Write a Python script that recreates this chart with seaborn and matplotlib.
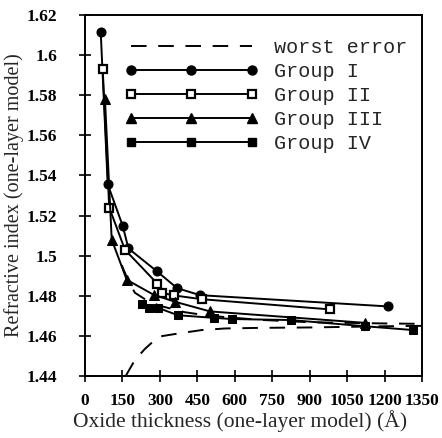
import numpy as np
import pandas as pd
import matplotlib
matplotlib.use("Agg")
import matplotlib.pyplot as plt
from matplotlib.lines import Line2D
import seaborn as sns

# Oxide thickness (Å) and one-layer-model refractive index per sample group
g1_t = [63, 91, 151, 174, 287, 369, 461, 1213]
g1_n = [1.6114, 1.5356, 1.5149, 1.5036, 1.4923, 1.4838, 1.4803, 1.4747]

g2_t = [71, 97, 160, 290, 307, 355, 467, 982]
g2_n = [1.5930, 1.5240, 1.5030, 1.4860, 1.4815, 1.4802, 1.4783, 1.4732]

g3_t = [80, 107, 167, 275, 361, 501, 1122]
g3_n = [1.5780, 1.5080, 1.4880, 1.4805, 1.4770, 1.4722, 1.4665]

g4_t = [230, 258, 292, 372, 515, 590, 825, 1122, 1315]
g4_n = [1.4758, 1.4738, 1.4740, 1.4703, 1.4690, 1.4684, 1.4679, 1.4648, 1.4629]

# Worst-error envelope (upper and lower branches)
err_up_t = [147, 175, 200, 250, 300, 400, 500, 700, 900, 1200, 1350]
err_up_n = [1.4953, 1.4870, 1.4815, 1.4775, 1.4750, 1.4718, 1.4700, 1.4680, 1.4668, 1.4662, 1.4660]
err_lo_t = [163, 200, 240, 294, 374, 467, 561, 700, 900, 1200, 1350]
err_lo_n = [1.4400, 1.4480, 1.4535, 1.4596, 1.4612, 1.4629, 1.4637, 1.4640, 1.4642, 1.4648, 1.4650]

x_ticks = list(range(0, 1351, 150))
y_ticks = [1.44, 1.46, 1.48, 1.50, 1.52, 1.54, 1.56, 1.58, 1.60, 1.62]

group_names = ["Group I", "Group II", "Group III", "Group IV"]

sns.set_theme(style="ticks")
plt.rcParams["font.family"] = ["Liberation Serif", "DejaVu Serif"]

W, H = 442, 438
fig = plt.figure(figsize=(W / 100, H / 100), dpi=100)
ax = fig.add_axes([85 / W, 1 - 376 / H, (422 - 85) / W, (376 - 15) / H])

lw = 1.4
dash = (8, 6)

for t, n in [(err_up_t, err_up_n), (err_lo_t, err_lo_n)]:
    sns.lineplot(x=t, y=n, ax=ax, color="black", lw=lw, sort=False,
                 estimator=None, dashes=False, linestyle=(0, dash), zorder=2)

styles = [
    dict(marker="o", markersize=6.5, markerfacecolor="black"),
    dict(marker="s", markersize=6, markerfacecolor="white", markeredgewidth=1.6),
    dict(marker="^", markersize=7, markerfacecolor="black"),
    dict(marker="s", markersize=6, markerfacecolor="black"),
]
series = [(g1_t, g1_n), (g2_t, g2_n), (g3_t, g3_n), (g4_t, g4_n)]
for (t, n), st in zip(series, styles):
    sns.lineplot(x=t, y=n, ax=ax, color="black", lw=lw, sort=False,
                 estimator=None, markeredgecolor="black", zorder=3, **st)

ax.set_xlim(0, 1350)
ax.set_ylim(1.44, 1.62)
ax.set_xticks(x_ticks)
ax.set_yticks(y_ticks)
ax.set_xticklabels([str(v) for v in x_ticks])
ax.set_yticklabels([f"{v:g}" for v in y_ticks])

for sp in ax.spines.values():
    sp.set_visible(True)
    sp.set_color("black")
    sp.set_linewidth(1.4)

ax.tick_params(axis="both", direction="inout", length=8, width=1.2,
               colors="black", labelsize=12.5)
ax.tick_params(axis="y", pad=16)
ax.tick_params(axis="x", pad=8)
for lab in ax.get_xticklabels() + ax.get_yticklabels():
    lab.set_fontweight("bold")

ax.set_xlabel("Oxide thickness (one-layer model) (Å)", fontsize=15.5)
ax.xaxis.set_label_coords(0.46, -0.095)
ax.set_ylabel("Refractive index (one-layer model)", fontsize=14.5, labelpad=2)

handles = [Line2D([], [], color="black", lw=lw, linestyle=(0, dash))]
for st in styles:
    handles.append(Line2D([], [], color="black", lw=lw, markeredgecolor="black", **st))
labels = ["worst error"] + group_names

leg = fig.legend(handles, labels, loc="upper left",
                 bbox_to_anchor=(125 / W, 1 - 38 / H), frameon=False,
                 borderpad=0, borderaxespad=0, handlelength=6.6,
                 handletextpad=0.8, labelspacing=0.25, numpoints=3,
                 prop={"family": "Liberation Mono", "size": 14.5})

fig.savefig("out.png", dpi=100)
